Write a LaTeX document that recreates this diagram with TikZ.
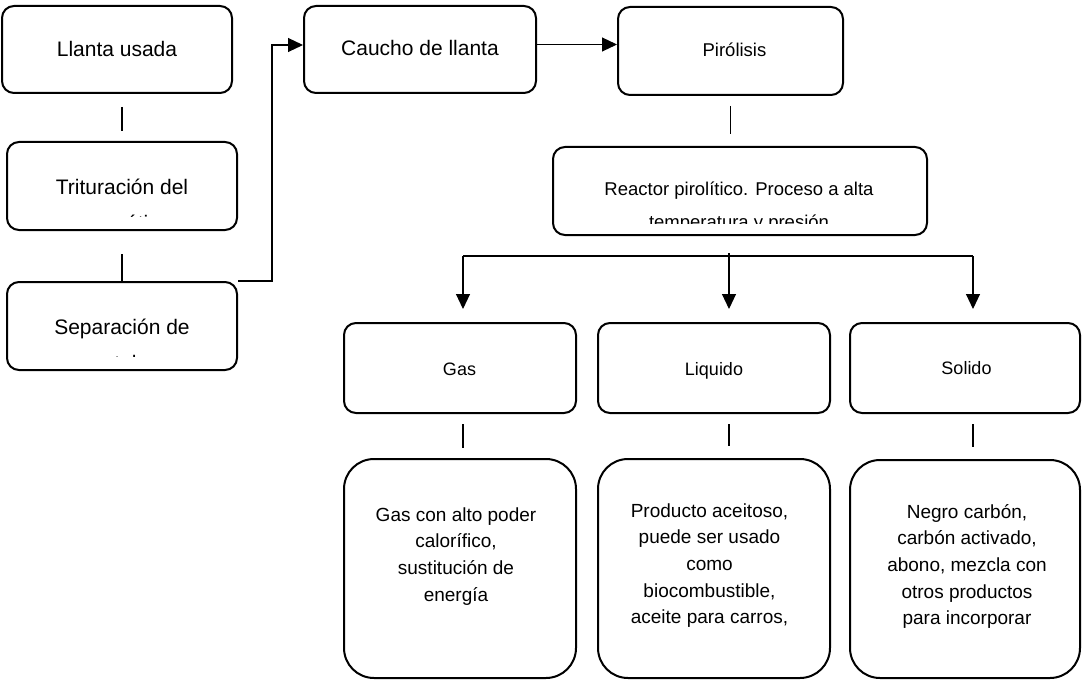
\documentclass[tikz,border=0pt]{standalone}
\usepackage{fontspec}
\setmainfont{Liberation Sans}
\usetikzlibrary{arrows.meta,calc}
\tikzset{
  box/.style={draw, line width=2pt, rounded corners=12pt, inner sep=0pt},
  bigbox/.style={draw, line width=2pt, rounded corners=30pt, inner sep=0pt},
  link/.style={line width=1.1pt},
  arr/.style={line width=1.1pt, -{Triangle[length=15pt,width=14pt]}},
  lbl/.style={anchor=base, inner sep=0pt, font=\fontsize{21}{25}\selectfont},
  sml/.style={anchor=base, inner sep=0pt, font=\fontsize{18.5}{22}\selectfont},
  txt/.style={anchor=base, inner sep=0pt, font=\fontsize{19}{26.7}\selectfont},
}
\begin{document}
\begin{tikzpicture}[x=1pt, y=-1pt]
\useasboundingbox (0,0) rectangle (1082,682);

% process boxes
\node[box, minimum width=230pt, minimum height=87pt] (llanta) at (117,49.5) {};
\node[box, minimum width=230pt, minimum height=88pt] (trit) at (122,186) {};
\node[box, minimum width=230pt, minimum height=88pt] (sep) at (122,326) {};
\node[box, minimum width=232pt, minimum height=87pt] (caucho) at (420,49.5) {};
\node[box, minimum width=225pt, minimum height=88pt] (piro) at (730.5,51) {};
\node[box, minimum width=374pt, minimum height=88pt] (reactor) at (740,191) {};
\node[box, minimum width=232pt, minimum height=90pt] (gas) at (460,368) {};
\node[box, minimum width=232pt, minimum height=90pt] (liq) at (714,368) {};
\node[box, minimum width=230pt, minimum height=90pt] (sol) at (965,368) {};
\node[bigbox, minimum width=232pt, minimum height=219pt] (gasd) at (460,568.5) {};
\node[bigbox, minimum width=232pt, minimum height=219pt] (liqd) at (714,568.5) {};
\node[bigbox, minimum width=230pt, minimum height=218pt] (sold) at (965,569) {};

% labels
\node[lbl] (tllanta) at (117,57) {Llanta usada};
\node[lbl] (ttrit) at (122,194) {Trituración del};
\begin{scope}
  \clip (trit.north west) rectangle ([yshift=14.3pt]trit.south east);
  \node[lbl] (ttrit2) at (122,230) {neumático};
\end{scope}
\node[lbl] (tsep) at (122,334) {Separación de};
\begin{scope}
  \clip (sep.north west) rectangle ([yshift=14.5pt]sep.south east);
  \node[lbl] (tsep2) at (122,370) {metales};
\end{scope}
\node[lbl] (tcaucho) at (420,56) {Caucho de llanta};
\node[sml] (tpiro) at (734.5,56.5) {Pirólisis};
\node[sml] (treactor) at (739,195) {Reactor pirolítico. Proceso a alta};
\begin{scope}
  \clip (reactor.north west) rectangle ([yshift=13pt]reactor.south east);
  \node[sml] (treactor2) at (739,228) {temperatura y presión};
\end{scope}
\node[sml, font=\fontsize{18}{22}\selectfont] (tgas) at (459.5,375) {Gas};
\node[sml, font=\fontsize{18}{22}\selectfont] (tliq) at (714,375) {Liquido};
\node[sml, font=\fontsize{18}{22}\selectfont] (tsol) at (966.5,374) {Solido};

\node[txt] (tgasd) at (456,521) {\begin{tabular}[t]{@{}c@{}}Gas con alto poder\\calorífico,\\sustitución de\\energía\end{tabular}};
\node[txt] (tliqd) at (709.5,517) {\begin{tabular}[t]{@{}c@{}}Producto aceitoso,\\puede ser usado\\como\\biocombustible,\\aceite para carros,\end{tabular}};
\node[txt] (tsold) at (967,518) {\begin{tabular}[t]{@{}c@{}}Negro carbón,\\carbón activado,\\abono, mezcla con\\otros productos\\para incorporar\end{tabular}};

% connectors on the left column
\draw[link] ([yshift=-13pt]llanta.south -| trit.north) -- ([yshift=10pt]trit.north);
\draw[link] ([yshift=-23pt]trit.south) -- (sep.north);
\draw[arr] (sep.north east) -- ++(34,0) |- ([yshift=4.5pt]caucho.west);
\draw[arr] ([yshift=5pt]caucho.east) -- ([yshift=5pt]caucho.east -| piro.west);
\draw[link] ([yshift=-10pt]piro.south) -- ([yshift=12pt]reactor.north -| piro.south);

% branching to the three products
\coordinate (bg) at (463,256);
\coordinate (bl) at (729,253);
\coordinate (bs) at (973,256);
\draw[link] (bg) -- (bs);
\draw[arr, shorten >=13pt] (bg) -- (bg |- gas.north);
\draw[arr, shorten >=13pt] (bl) -- (bl |- liq.north);
\draw[arr, shorten >=13pt] (bs) -- (bs |- sol.north);

% products to descriptions
\draw[link] ([yshift=-10pt]gas.south -| bg) -- ([yshift=10pt]gasd.north -| bg);
\draw[link] ([yshift=-10pt]liq.south -| bl) -- ([yshift=12pt]liqd.north -| bl);
\draw[link] ([yshift=-10pt]sol.south -| bs) -- ([yshift=12pt]sold.north -| bs);
\end{tikzpicture}
\end{document}
